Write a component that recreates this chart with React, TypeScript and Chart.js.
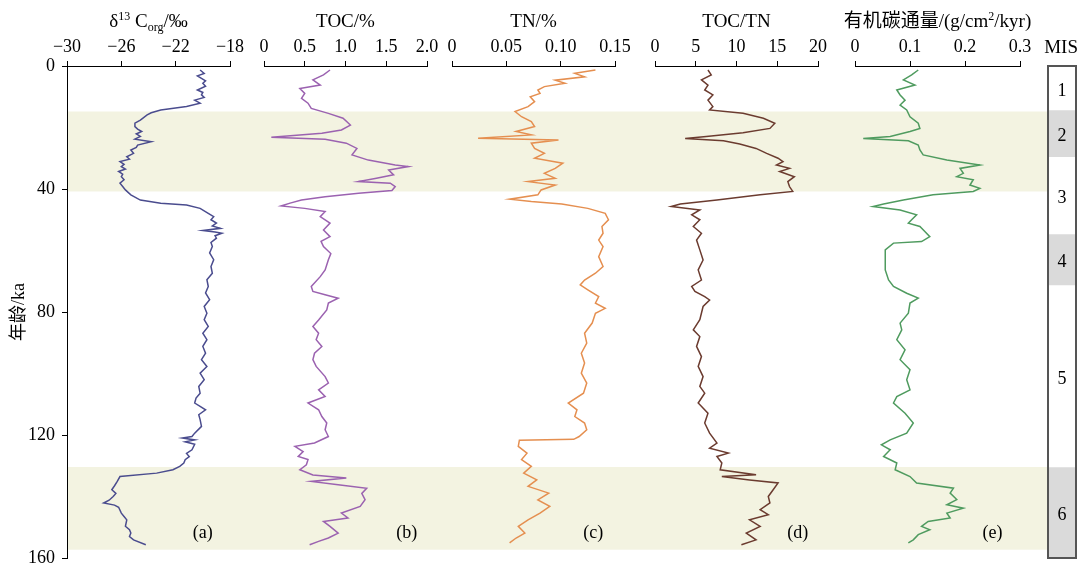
import React, { useEffect, useRef } from "react";
import { Chart, registerables } from "chart.js";

Chart.register(...registerables);

const SERIF = '"Liberation Serif", "Times New Roman", "Noto Sans CJK SC", serif';
const H = 567;

// ---- age axis ----
const ageMin = 0;
const ageMax = 160;
const ageTicks = [0, 40, 80, 120, 160];
const ageTickLabels = ["0", "40", "80", "120", "160"];
const ageTitle = "年龄/ka";

// ---- glacial bands (ka) ----
const bandStart = [14.8, 130.4];
const bandEnd = [40.8, 157.3];
const bandColor = "#f3f3e1";

// ---- MIS ----
const misStages = ["1", "2", "3", "4", "5", "6"];
const misStart = [0, 14.3, 29.5, 54.6, 71.2, 130.4];
const misEnd = [14.3, 29.5, 54.6, 71.2, 130.4, 160];
const misFill = ["#ffffff", "#dadada", "#ffffff", "#dadada", "#ffffff", "#dadada"];

// ---- (a) δ13C org ----
const d13cAge = [
  1.3, 2.4, 3.2, 4.0, 4.8, 5.6, 6.6, 7.8, 8.6, 9.4,
  10.2, 11.1, 12.1, 13.2, 14.3, 15.2, 15.9, 17.6, 18.6, 19.7,
  20.5, 21.3, 22.1, 22.9, 23.8, 24.6, 25.7, 26.5, 27.3, 28.4,
  29.5, 30.3, 31.1, 32.0, 32.7, 33.5, 34.3, 35.2, 36.0, 37.0,
  38.1, 39.2, 40.3, 41.9, 43.6, 44.6, 45.2, 46.3, 47.9, 49.0,
  50.0, 51.1, 52.0, 52.8, 53.5, 54.0, 54.4, 55.2, 56.0, 57.4,
  58.7, 60.8, 63.0, 65.2, 67.4, 69.5, 71.7, 73.8, 76.0, 78.2,
  80.4, 82.5, 84.7, 86.9, 89.0, 91.2, 93.4, 95.5, 97.7, 99.9,
  102.0, 104.2, 106.4, 108.0, 109.6, 110.7, 111.8, 113.4, 115.0, 117.2,
  119.4, 120.5, 121.0, 121.6, 122.2, 123.0, 124.8, 126.0, 127.0, 128.0,
  129.1, 130.2, 131.3, 132.4, 133.5, 135.1, 136.5, 137.8, 139.0, 140.0,
  141.2, 142.1, 142.8, 143.5, 145.4, 146.5, 147.6, 149.7, 150.8, 151.9,
  153.0, 154.1, 155.7,
];
const d13cVal = [
  -20.2, -19.9, -20.4, -20.1, -19.8, -20.0, -19.8, -20.4, -20.0, -20.1,
  -19.9, -20.6, -20.2, -21.2, -23.1, -23.8, -24.1, -24.6, -25.0, -25.0,
  -24.8, -24.5, -24.9, -24.6, -25.0, -23.8, -24.8, -24.9, -25.3, -25.1,
  -25.6, -25.4, -26.1, -25.8, -26.0, -25.7, -26.2, -25.9, -26.0, -25.8,
  -26.1, -25.9, -25.7, -25.3, -24.6, -23.1, -21.2, -20.2, -19.6, -19.2,
  -19.4, -19.0, -19.3, -18.7, -20.0, -19.1, -18.6, -19.1, -19.0, -19.4,
  -19.3, -19.5, -19.2, -19.4, -19.3, -19.7, -19.6, -19.8, -19.5, -19.9,
  -19.7, -19.9, -19.6, -20.0, -19.7, -20.0, -19.8, -20.1, -19.7, -20.2,
  -19.9, -20.3, -20.2, -20.5, -20.6, -20.2, -19.8, -20.3, -20.2, -20.1,
  -20.6, -20.8, -21.5, -20.6, -21.3, -20.6, -20.8, -21.2, -21.0, -21.3,
  -21.4, -21.7, -22.2, -23.4, -26.1, -26.3, -26.5, -26.7, -26.4, -26.6,
  -26.9, -27.3, -26.5, -26.2, -26.0, -25.8, -25.6, -25.7, -25.4, -25.3,
  -25.4, -25.1, -24.2,
];
const d13cTicks = [-30, -26, -22, -18];
const d13cTickLabels = ["−30", "−26", "−22", "−18"];

// ---- (b) TOC % ----
const tocAge = [
  1.3, 2.9, 4.5, 6.2, 7.3, 8.9, 10.5, 12.1, 13.8, 15.4,
  17.0, 19.2, 20.8, 21.9, 23.2, 23.8, 25.1, 26.8, 28.9, 30.6,
  32.2, 32.7, 33.8, 35.4, 36.5, 37.6, 38.1, 39.2, 40.5, 41.4,
  42.5, 43.6, 44.6, 45.5, 46.3, 47.3, 49.0, 51.1, 53.3, 55.5,
  57.0, 58.7, 61.0, 63.0, 66.3, 68.5, 71.7, 73.3, 74.4, 75.5,
  77.1, 79.3, 82.6, 84.7, 86.9, 89.0, 91.2, 93.4, 95.5, 97.7,
  101.0, 103.1, 105.3, 107.5, 109.6, 111.8, 114.0, 116.1, 118.3, 120.5,
  122.6, 123.7, 125.4, 127.0, 128.0, 129.7, 131.3, 133.0, 134.0, 135.1,
  136.2, 137.3, 139.0, 141.0, 143.2, 145.4, 147.0, 148.1, 149.7, 151.9,
  153.5, 154.6, 155.7,
];
const tocVal = [
  0.81, 0.73, 0.60, 0.69, 0.44, 0.50, 0.46, 0.54, 0.58, 0.79,
  0.97, 1.06, 0.95, 0.71, 0.09, 0.75, 1.01, 1.14, 1.08, 1.28,
  1.61, 1.77, 1.53, 1.59, 1.38, 1.16, 1.55, 1.61, 1.57, 1.16,
  0.75, 0.46, 0.32, 0.21, 0.50, 0.75, 0.69, 0.81, 0.73, 0.81,
  0.70, 0.73, 0.82, 0.79, 0.75, 0.69, 0.58, 0.60, 0.75, 0.91,
  0.79, 0.77, 0.67, 0.60, 0.67, 0.64, 0.71, 0.62, 0.60, 0.64,
  0.75, 0.79, 0.67, 0.75, 0.54, 0.67, 0.71, 0.77, 0.75, 0.79,
  0.62, 0.38, 0.48, 0.42, 0.54, 0.52, 0.44, 0.60, 1.01, 0.58,
  0.91, 1.26, 1.20, 1.24, 1.18, 0.95, 1.03, 0.73, 0.81, 0.91,
  0.79, 0.67, 0.56,
];
const tocTicks = [0, 0.5, 1.0, 1.5, 2.0];
const tocTickLabels = ["0", "0.5", "1.0", "1.5", "2.0"];

// ---- (c) TN % ----
const tnAge = [
  1.3, 2.4, 3.5, 4.6, 5.6, 6.7, 7.8, 8.9, 10.0, 11.6,
  13.2, 14.8, 16.5, 18.1, 19.7, 21.3, 22.4, 23.5, 24.1, 25.1,
  26.8, 28.4, 30.0, 31.6, 33.3, 34.9, 36.5, 37.6, 38.7, 40.3,
  41.9, 43.3, 44.1, 44.9, 46.3, 47.9, 50.0, 52.2, 54.4, 56.6,
  58.7, 62.0, 65.2, 67.4, 69.6, 71.2, 72.8, 75.0, 77.1, 78.8,
  80.4, 83.6, 86.9, 90.1, 93.4, 96.6, 99.9, 103.1, 106.4, 109.6,
  111.8, 114.0, 116.1, 118.3, 120.5, 121.4, 121.7, 123.7, 125.9, 128.0,
  130.2, 132.4, 134.6, 136.7, 138.9, 141.1, 143.2, 145.4, 147.6, 149.7,
  151.9, 153.5, 155.1,
];
const tnVal = [
  0.132, 0.113, 0.122, 0.095, 0.104, 0.085, 0.079, 0.081, 0.072, 0.076,
  0.070, 0.058, 0.064, 0.073, 0.076, 0.059, 0.073, 0.024, 0.098, 0.073,
  0.076, 0.085, 0.076, 0.102, 0.095, 0.085, 0.095, 0.070, 0.095, 0.082,
  0.079, 0.053, 0.073, 0.101, 0.125, 0.141, 0.144, 0.138, 0.139, 0.135,
  0.139, 0.135, 0.139, 0.132, 0.122, 0.118, 0.125, 0.135, 0.132, 0.141,
  0.132, 0.129, 0.122, 0.124, 0.119, 0.122, 0.119, 0.124, 0.121, 0.107,
  0.115, 0.113, 0.122, 0.124, 0.117, 0.112, 0.062, 0.061, 0.069, 0.064,
  0.073, 0.066, 0.078, 0.070, 0.089, 0.079, 0.090, 0.081, 0.070, 0.061,
  0.067, 0.059, 0.053,
];
const tnTicks = [0, 0.05, 0.1, 0.15];
const tnTickLabels = ["0", "0.05", "0.10", "0.15"];

// ---- (d) TOC/TN ----
const ratioAge = [
  1.3, 2.9, 4.5, 6.2, 7.8, 9.4, 11.1, 13.2, 14.3, 15.4,
  17.0, 18.6, 20.3, 21.7, 22.9, 23.6, 24.3, 25.4, 26.8, 28.4,
  30.0, 31.1, 32.2, 33.3, 34.3, 36.0, 37.6, 39.2, 40.8, 41.9,
  43.6, 44.9, 45.7, 46.8, 48.4, 50.0, 52.2, 54.4, 56.6, 59.8,
  63.1, 66.3, 69.6, 71.7, 73.3, 75.0, 76.1, 78.2, 82.5, 85.8,
  88.0, 91.2, 94.5, 97.7, 101.0, 104.2, 106.4, 109.6, 112.9, 116.1,
  119.4, 122.6, 124.3, 125.9, 127.0, 129.1, 131.3, 132.9, 133.5, 134.6,
  135.6, 137.8, 140.0, 142.1, 144.3, 145.9, 147.6, 149.7, 151.9, 154.1,
  155.7,
];
const ratioVal = [
  6.5, 6.9, 5.7, 6.5, 6.1, 7.1, 6.5, 7.1, 6.7, 10.8,
  13.3, 14.7, 14.1, 10.8, 6.3, 3.7, 8.4, 10.4, 12.4, 13.7,
  15.1, 15.7, 14.9, 16.5, 15.3, 17.1, 16.3, 16.5, 16.9, 12.9,
  7.6, 3.1, 2.0, 5.5, 4.5, 5.5, 4.7, 5.7, 5.1, 5.5,
  5.9, 5.3, 5.7, 4.5, 4.9, 6.1, 6.7, 5.9, 5.5, 4.7,
  5.5, 5.1, 5.7, 5.3, 5.9, 5.5, 6.1, 5.3, 6.5, 6.1,
  6.7, 7.6, 6.7, 9.0, 7.6, 8.2, 8.0, 12.4, 8.2, 11.6,
  15.1, 14.5, 13.9, 14.1, 12.9, 13.9, 11.6, 12.9, 11.2, 12.4,
  10.6,
];
const ratioTicks = [0, 5, 10, 15, 20];
const ratioTickLabels = ["0", "5", "10", "15", "20"];

// ---- (e) organic carbon flux ----
const fluxAge = [
  1.3, 2.9, 4.5, 6.2, 7.8, 9.4, 11.1, 12.7, 14.3, 16.5,
  18.6, 20.3, 21.3, 22.9, 23.6, 24.3, 25.7, 27.3, 28.9, 30.6,
  32.2, 33.3, 34.9, 36.0, 37.0, 38.7, 39.8, 40.8, 41.9, 43.6,
  44.9, 45.7, 46.8, 48.4, 50.0, 51.1, 52.2, 53.8, 55.5, 57.1,
  57.6, 59.8, 63.1, 66.3, 69.6, 71.7, 73.9, 75.5, 77.1, 80.4,
  83.6, 85.8, 89.0, 92.3, 95.5, 98.8, 102.0, 105.3, 107.5, 109.6,
  112.9, 116.1, 119.4, 121.6, 123.2, 124.8, 127.0, 129.1, 131.3, 133.5,
  135.6, 137.3, 138.9, 141.0, 142.7, 143.8, 145.4, 147.0, 148.1, 149.7,
  150.8, 152.4, 154.1, 155.1,
];
const fluxVal = [
  0.115, 0.103, 0.088, 0.109, 0.076, 0.082, 0.091, 0.082, 0.094, 0.100,
  0.115, 0.118, 0.100, 0.064, 0.015, 0.097, 0.115, 0.118, 0.124, 0.167,
  0.227, 0.191, 0.197, 0.185, 0.215, 0.209, 0.227, 0.215, 0.142, 0.088,
  0.052, 0.033, 0.082, 0.112, 0.103, 0.097, 0.118, 0.127, 0.136, 0.121,
  0.070, 0.055, 0.055, 0.055, 0.061, 0.070, 0.094, 0.115, 0.100, 0.097,
  0.082, 0.085, 0.076, 0.091, 0.082, 0.100, 0.094, 0.100, 0.076, 0.070,
  0.091, 0.106, 0.094, 0.064, 0.048, 0.064, 0.052, 0.076, 0.073, 0.100,
  0.112, 0.179, 0.173, 0.185, 0.167, 0.197, 0.167, 0.173, 0.133, 0.121,
  0.136, 0.115, 0.106, 0.097,
];
const fluxTicks = [0, 0.1, 0.2, 0.3];
const fluxTickLabels = ["0", "0.1", "0.2", "0.3"];

type Seg = { t: string; s?: "sup" | "sub" };

type PanelCfg = {
  id: string;
  age: number[];
  val: number[];
  ticks: number[];
  tickLabels: string[];
  min: number;
  max: number;
  color: string;
  title: Seg[];
  label: string;
  labelX: number;
  left: number;
  width: number;
  padL: number;
  padR: number;
  yAxis: boolean;
};

const panels: PanelCfg[] = [
  {
    id: "a", age: d13cAge, val: d13cVal, ticks: d13cTicks, tickLabels: d13cTickLabels,
    min: -30, max: -18, color: "#4a4c8e",
    title: [{ t: "δ" }, { t: "13", s: "sup" }, { t: " C" }, { t: "org", s: "sub" }, { t: "/‰" }],
    label: "(a)", labelX: -20, left: 0, width: 247, padL: 0, padR: 17, yAxis: true,
  },
  {
    id: "b", age: tocAge, val: tocVal, ticks: tocTicks, tickLabels: tocTickLabels,
    min: 0, max: 2, color: "#9b62b0", title: [{ t: "TOC/%" }],
    label: "(b)", labelX: 1.75, left: 247, width: 193, padL: 17, padR: 13, yAxis: false,
  },
  {
    id: "c", age: tnAge, val: tnVal, ticks: tnTicks, tickLabels: tnTickLabels,
    min: 0, max: 0.15, color: "#e58f50", title: [{ t: "TN/%" }],
    label: "(c)", labelX: 0.13, left: 440, width: 196, padL: 12, padR: 21, yAxis: false,
  },
  {
    id: "d", age: ratioAge, val: ratioVal, ticks: ratioTicks, tickLabels: ratioTickLabels,
    min: 0, max: 20, color: "#6b3b2f", title: [{ t: "TOC/TN" }],
    label: "(d)", labelX: 17.5, left: 636, width: 194, padL: 19, padR: 12, yAxis: false,
  },
  {
    id: "e", age: fluxAge, val: fluxVal, ticks: fluxTicks, tickLabels: fluxTickLabels,
    min: 0, max: 0.3, color: "#4f9b5f",
    title: [{ t: "有机碳通量/(g/cm" }, { t: "2", s: "sup" }, { t: "/kyr)" }],
    label: "(e)", labelX: 0.25, left: 830, width: 206, padL: 25, padR: 16, yAxis: false,
  },
];

function drawSegments(ctx: CanvasRenderingContext2D, segs: Seg[], cx: number, baseY: number, size: number) {
  ctx.save();
  ctx.fillStyle = "#000";
  ctx.textBaseline = "alphabetic";
  ctx.textAlign = "left";
  const small = Math.round(size * 0.62);
  const fontFor = (s: Seg) => `${s.s ? small : size}px ${SERIF}`;
  let total = 0;
  segs.forEach((s) => {
    ctx.font = fontFor(s);
    total += ctx.measureText(s.t).width;
  });
  let x = cx - total / 2;
  segs.forEach((s) => {
    ctx.font = fontFor(s);
    const dy = s.s === "sup" ? -size * 0.38 : s.s === "sub" ? size * 0.22 : 0;
    ctx.fillText(s.t, x, baseY + dy);
    x += ctx.measureText(s.t).width;
  });
  ctx.restore();
}

function drawBands(chart: any, x0: number, x1: number) {
  const { ctx } = chart;
  const y = chart.scales.y;
  ctx.save();
  ctx.fillStyle = bandColor;
  bandStart.forEach((s, i) => {
    const y0 = y.getPixelForValue(s);
    const y1 = y.getPixelForValue(bandEnd[i]);
    ctx.fillRect(x0, y0, x1 - x0, y1 - y0);
  });
  ctx.restore();
}

const gridCfg = { display: true, drawOnChartArea: false, drawTicks: true, tickLength: 5, color: "#000", lineWidth: 1 };
const tickFont = { family: SERIF, size: 18 };

const noOverflow = (s: any) => {
  s.paddingTop = 0;
  s.paddingBottom = 0;
  s.paddingLeft = 0;
  s.paddingRight = 0;
};

function PanelChart({ p }: { p: PanelCfg }) {
  const ref = useRef<HTMLCanvasElement>(null);
  useEffect(() => {
    const deco = {
      id: "deco" + p.id,
      beforeDraw(chart: any) {
        drawBands(chart, p.yAxis ? chart.chartArea.left : 0, chart.width);
      },
      afterDraw(chart: any) {
        const { ctx, chartArea } = chart;
        drawSegments(ctx, p.title, (chartArea.left + chartArea.right) / 2, 27, 19);
        ctx.save();
        ctx.font = `18px ${SERIF}`;
        ctx.fillStyle = "#000";
        ctx.textAlign = "center";
        ctx.textBaseline = "middle";
        ctx.fillText(p.label, chart.scales.x.getPixelForValue(p.labelX), chart.scales.y.getPixelForValue(152));
        ctx.restore();
      },
    };
    const chart = new Chart(ref.current as HTMLCanvasElement, {
      type: "line",
      data: {
        datasets: [
          {
            data: p.age.map((a, i) => ({ x: p.val[i], y: a })),
            borderColor: p.color,
            borderWidth: 1.5,
            pointRadius: 0,
            fill: false,
            tension: 0,
          },
        ],
      },
      options: {
        animation: false,
        responsive: true,
        maintainAspectRatio: false,
        indexAxis: "y",
        events: [],
        layout: { padding: { left: p.padL, right: p.padR, top: 0, bottom: 9 } },
        plugins: { legend: { display: false }, tooltip: { enabled: false } },
        scales: {
          x: {
            type: "linear",
            position: "top",
            min: p.min,
            max: p.max,
            afterBuildTicks: (s: any) => {
              s.ticks = p.ticks.map((v) => ({ value: v }));
            },
            afterFit: (s: any) => {
              s.height = 66;
              noOverflow(s);
            },
            grid: gridCfg,
            border: { display: true, color: "#000", width: 1 },
            ticks: {
              font: tickFont,
              color: "#000",
              padding: 3,
              maxRotation: 0,
              autoSkip: false,
              callback: (_v: any, i: number) => p.tickLabels[i],
            },
          },
          y: {
            type: "linear",
            position: "left",
            display: p.yAxis,
            min: ageMin,
            max: ageMax,
            reverse: true,
            afterBuildTicks: (s: any) => {
              s.ticks = ageTicks.map((v) => ({ value: v }));
            },
            afterFit: (s: any) => {
              if (p.yAxis) s.width = 67;
              noOverflow(s);
            },
            grid: gridCfg,
            border: { display: true, color: "#000", width: 1 },
            ticks: {
              font: tickFont,
              color: "#000",
              padding: 7,
              autoSkip: false,
              callback: (_v: any, i: number) => ageTickLabels[i],
            },
            title: {
              display: p.yAxis,
              text: ageTitle,
              color: "#000",
              font: { family: SERIF, size: 18 },
              padding: { top: 8, bottom: 0 },
            },
          },
        },
      } as any,
      plugins: [deco],
    });
    return () => chart.destroy();
  }, []);
  return (
    <div style={{ position: "absolute", left: p.left, top: 0, width: p.width, height: H }}>
      <canvas ref={ref} />
    </div>
  );
}

function MisChart() {
  const ref = useRef<HTMLCanvasElement>(null);
  useEffect(() => {
    const deco = {
      id: "misDeco",
      beforeDraw(chart: any) {
        drawBands(chart, 0, chart.chartArea.left - 1);
      },
      afterDraw(chart: any) {
        const { ctx, chartArea } = chart;
        const y = chart.scales.y;
        ctx.save();
        ctx.strokeStyle = "#555";
        ctx.lineWidth = 2;
        ctx.strokeRect(chartArea.left, chartArea.top, chartArea.right - chartArea.left, chartArea.bottom - chartArea.top);
        ctx.fillStyle = "#000";
        ctx.font = `18px ${SERIF}`;
        ctx.textAlign = "center";
        ctx.textBaseline = "middle";
        const cx = (chartArea.left + chartArea.right) / 2;
        misStages.forEach((s, i) => {
          ctx.fillText(s, cx, y.getPixelForValue((misStart[i] + misEnd[i]) / 2 + 1));
        });
        ctx.font = `19px ${SERIF}`;
        ctx.textAlign = "right";
        ctx.fillText("MIS", chart.width, 48);
        ctx.restore();
      },
    };
    const chart = new Chart(ref.current as HTMLCanvasElement, {
      type: "bar",
      data: {
        labels: ["MIS"],
        datasets: misStages.map((s, i) => ({
          label: s,
          data: [[misStart[i], misEnd[i]]],
          backgroundColor: misFill[i],
          borderWidth: 0,
          grouped: false,
          barPercentage: 1,
          categoryPercentage: 1,
        })),
      },
      options: {
        animation: false,
        responsive: true,
        maintainAspectRatio: false,
        events: [],
        layout: { padding: { left: 12, right: 2, top: 66, bottom: 9 } },
        plugins: { legend: { display: false }, tooltip: { enabled: false } },
        scales: {
          x: { type: "category", display: false },
          y: { type: "linear", display: false, min: ageMin, max: ageMax, reverse: true },
        },
      } as any,
      plugins: [deco],
    });
    return () => chart.destroy();
  }, []);
  return (
    <div style={{ position: "absolute", left: 1036, top: 0, width: 42, height: H }}>
      <canvas ref={ref} />
    </div>
  );
}

export default function App() {
  return (
    <div style={{ position: "absolute", left: 0, top: 0, width: 1078, height: H, background: "#fff", overflow: "hidden" }}>
      {panels.map((p) => (
        <PanelChart key={p.id} p={p} />
      ))}
      <MisChart />
    </div>
  );
}
